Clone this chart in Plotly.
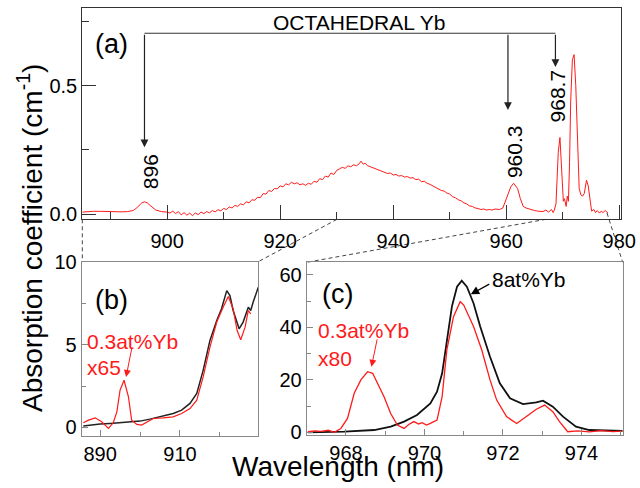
import plotly.graph_objects as go

# ---------------- data ----------------
# panel (a): 0.3at%Yb absorption spectrum
a_wl = [885, 886, 887, 888, 889, 890, 891, 892, 893, 894, 894.5, 895, 895.5, 896, 896.5, 897, 897.5, 898, 899, 900,
        900.5, 901, 901.5, 902, 902.5, 903, 903.5, 904, 904.5, 905, 905.5, 906, 906.5, 907, 907.5, 908, 908.5, 909,
        909.5, 910, 910.5, 911, 911.5, 912, 912.5, 913, 913.5, 914, 914.5, 915, 915.5, 916, 916.5, 917, 917.5, 918,
        918.5, 919, 919.5, 920, 920.5, 921, 921.5, 922, 922.5, 923, 923.5, 924, 924.5, 925, 925.5, 926, 926.5, 927,
        927.5, 928, 928.5, 929, 929.5, 930, 930.5, 931, 931.5, 932, 932.5, 933, 933.5, 934, 934.3, 934.7, 935, 935.5,
        936, 936.5, 937, 937.5, 938, 938.5, 939, 939.5, 940, 940.5, 941, 941.5, 942, 942.5, 943, 943.5, 944, 944.5,
        945, 945.5, 946, 946.5, 947, 947.5, 948, 948.5, 949, 949.5, 950, 950.5, 951, 951.5, 952, 952.5, 953, 953.5,
        954, 954.5, 955, 955.5, 956, 956.5, 957, 957.5, 958, 958.8, 959.4, 959.8, 960.3, 960.8, 961.3, 962, 962.5,
        963, 963.5, 964, 964.5, 965, 965.5, 966, 966.5, 967, 967.5, 968, 968.3, 968.5, 968.8, 969.0, 969.2, 969.5,
        969.7, 969.9, 970.1, 970.3, 970.6, 970.8, 971.0, 971.2, 971.4, 971.7, 972.0, 972.3, 972.6, 972.9, 973.2,
        973.5, 973.8, 974.2, 974.5, 974.8, 975.1, 975.5, 975.8, 976.1, 976.5, 976.8, 977.1, 977.5, 978]
a_abs = [0.008, 0.010, 0.011, 0.011, 0.010, 0.010, 0.009, 0.009, 0.010, 0.014, 0.022, 0.033, 0.043, 0.048, 0.044,
         0.034, 0.024, 0.016, 0.010, 0.008, 0.004, 0.012, 0.002, 0.010, -0.003, 0.006, -0.004, 0.004, -0.006, 0.005,
         -0.002, 0.008, 0.002, 0.010, 0.005, 0.014, 0.009, 0.017, 0.013, 0.022, 0.018, 0.028, 0.024, 0.034, 0.030,
         0.040, 0.036, 0.048, 0.044, 0.056, 0.054, 0.066, 0.064, 0.080, 0.078, 0.092, 0.088, 0.100, 0.098, 0.110,
         0.106, 0.118, 0.114, 0.124, 0.118, 0.122, 0.114, 0.118, 0.112, 0.120, 0.116, 0.128, 0.124, 0.138, 0.134,
         0.148, 0.144, 0.160, 0.154, 0.170, 0.176, 0.182, 0.178, 0.188, 0.184, 0.192, 0.188, 0.196, 0.206, 0.194,
         0.198, 0.188, 0.184, 0.180, 0.174, 0.172, 0.166, 0.164, 0.158, 0.160, 0.152, 0.154, 0.148, 0.150, 0.144,
         0.146, 0.140, 0.142, 0.134, 0.136, 0.126, 0.128, 0.120, 0.116, 0.110, 0.104, 0.100, 0.092, 0.090, 0.082,
         0.078, 0.068, 0.064, 0.056, 0.052, 0.044, 0.040, 0.032, 0.030, 0.024, 0.022, 0.018, 0.020, 0.016, 0.018,
         0.016, 0.020, 0.018, 0.024, 0.048, 0.080, 0.106, 0.120, 0.100, 0.060, 0.030, 0.024, 0.020, 0.016, 0.014,
         0.012, 0.012, 0.010, 0.016, 0.008, 0.018, 0.006, 0.016, 0.040, 0.140, 0.240, 0.298, 0.230, 0.120, 0.050,
         0.060, 0.030, 0.070, 0.050, 0.200, 0.440, 0.600, 0.620, 0.500, 0.260, 0.100, 0.075, 0.070, 0.080, 0.132,
         0.110, 0.050, 0.012, 0.018, 0.006, 0.014, 0.004, 0.012, 0.006, 0.014, 0.004, 0.012, 0.006, 0.012]

# panel (b): 885-930 nm
b_wl_8 = [885.8, 887.5, 890.0, 892.5, 895.0, 897.5, 900.0, 902.5, 905.0, 906.7, 908.3, 910.4, 912.5, 914.2,
          915.8, 917.5, 919.2, 920.4, 921.7, 922.5, 923.3, 924.8, 925.8, 927.1, 927.7, 928.3, 929.6]
b_abs_8 = [0.08, 0.14, 0.20, 0.24, 0.30, 0.34, 0.38, 0.50, 0.64, 0.74, 0.84, 1.04, 1.45, 2.05,
           3.45, 5.26, 6.47, 7.17, 8.27, 7.97, 7.07, 5.96, 6.37, 7.27, 7.07, 7.57, 8.47]
b_wl_03 = [885.8, 887.1, 888.75, 890.4, 892.1, 893.3, 894.2, 895.0, 896.0, 897.1, 897.9, 899.2, 900.4, 901.7,
           903.3, 905.8, 908.3, 910.4, 912.5, 914.2, 915.8, 917.5, 919.2, 920.8, 922.1, 923.3, 924.3, 925.2,
           926.3, 927.1, 927.7]
b_abs_03 = [0.28, 0.44, 0.58, 0.34, -0.06, 0.28, 0.94, 2.25, 2.85, 1.85, 0.44, 0.18, 0.14, 0.34,
            0.54, 0.58, 0.64, 0.84, 1.14, 1.65, 3.05, 4.86, 6.37, 7.27, 7.91, 7.17, 5.86, 5.30,
            6.06, 7.07, 6.87]

# panel (c): 967-975 nm
c_wl_8 = [967.03, 967.96, 968.72, 969.14, 969.48, 969.81, 970.15, 970.32, 970.45, 970.57, 970.70, 970.83,
          970.95, 971.08, 971.25, 971.42, 971.67, 971.92, 972.18, 972.51, 972.85, 973.02, 973.27, 973.53,
          973.86, 974.20, 975.05]
c_abs_8 = [0.0, 0.25, 0.9, 2.2, 4.1, 6.6, 11.0, 15.5, 22.5, 35.0, 48.0, 55.5,
           57.8, 55.5, 49.2, 40.3, 28.8, 18.7, 13.0, 10.8, 11.4, 12.1, 9.8, 6.0,
           2.2, 0.9, 0.6]
c_wl_03 = [967.03, 967.2, 967.37, 967.55, 967.70, 967.87, 968.04, 968.21, 968.38, 968.55, 968.68, 968.80,
           968.97, 969.14, 969.31, 969.48, 969.6, 969.73, 969.85, 969.94, 970.05, 970.15, 970.32, 970.45,
           970.57, 970.74, 970.91, 971.0, 971.08, 971.25, 971.46, 971.67, 971.84, 972.09, 972.35, 972.60,
           972.85, 973.06, 973.27, 973.44, 973.65, 973.9, 974.2, 974.5, 974.8, 975.05]
c_abs_03 = [0.25, 0.6, 0.4, 0.8, 0.0, 1.5, 5.3, 14.9, 20.0, 23.1, 22.5, 18.7,
            13.6, 7.2, 2.8, 1.5, 3.0, 4.1, 3.2, 3.7, 2.8, 3.4, 4.7, 13.6,
            31.4, 44.1, 49.8, 48.5, 46.0, 40.3, 31.4, 20.0, 12.3, 6.0, 3.4, 6.0,
            8.8, 10.4, 7.9, 4.1, 0.25, 0.6, 0.2, 0.7, 0.3, 0.5]

# tick labels / annotation values
a_xticks = [900, 920, 940, 960, 980]
a_yticks = [0.0, 0.5]
a_yticktext = ["0.0", "0.5"]
peaks = [896, 960.3, 968.7]
peak_tips = [0.26, 0.405, 0.572]
peak_label_y = [0.165, 0.245, 0.459]
peak_label_shift = [6, 6, 2]
bracket_y = 0.703

W, H = 640, 488
FONT = "Liberation Sans, Arial, sans-serif"
RED = "#ff1a1a"


def px(x):
    return x / W


def py(y):
    return 1 - y / H


fig = go.Figure()
fig.add_trace(go.Scatter(x=a_wl, y=a_abs, mode="lines", line=dict(color=RED, width=1), xaxis="x", yaxis="y"))
fig.add_trace(go.Scatter(x=b_wl_8, y=b_abs_8, mode="lines", line=dict(color="#222222", width=1.5), xaxis="x2", yaxis="y2"))
fig.add_trace(go.Scatter(x=b_wl_03, y=b_abs_03, mode="lines", line=dict(color=RED, width=1.2), xaxis="x2", yaxis="y2"))
fig.add_trace(go.Scatter(x=c_wl_8, y=c_abs_8, mode="lines", line=dict(color="#111111", width=1.8), xaxis="x3", yaxis="y3"))
fig.add_trace(go.Scatter(x=c_wl_03, y=c_abs_03, mode="lines", line=dict(color=RED, width=1.3), xaxis="x3", yaxis="y3"))

tickfont = dict(family=FONT, size=20, color="black")
common = dict(showgrid=False, zeroline=False, showline=True, mirror=True, ticks="inside", tickfont=tickfont,
              automargin=False)

fig.update_layout(
    template="none",
    width=W, height=H, margin=dict(l=0, r=0, t=0, b=0, pad=0), autosize=False,
    paper_bgcolor="white", plot_bgcolor="white", showlegend=False,
    xaxis=dict(domain=[px(82.3), px(621)], range=[885, 980.3], anchor="y", tickvals=a_xticks,
               ticklen=14, linecolor="#333333", linewidth=1.2, tickcolor="#333333", ticklabelstandoff=4,
               minor=dict(ticks="inside", dtick=10, ticklen=7, tickcolor="#333333"), **common),
    yaxis=dict(domain=[py(219.3), py(8.3)], range=[-0.02, 0.80], anchor="x", tickvals=a_yticks,
               ticktext=a_yticktext, ticklen=14, linecolor="#333333", linewidth=1.2, tickcolor="#333333",
               minor=dict(ticks="inside", dtick=0.25, ticklen=7, tickcolor="#333333"), **common),
    xaxis2=dict(domain=[px(81.7), px(258.3)], range=[885.4, 929.6], anchor="y2", tick0=890, dtick=20,
                ticklen=6, linecolor="#888888", tickcolor="#888888", ticklabelstandoff=0,
                minor=dict(ticks="inside", dtick=10, tick0=890, ticklen=4, tickcolor="#888888"), **common),
    yaxis2=dict(domain=[py(436), py(261.7)], range=[-0.52, 10.02], anchor="x2", tick0=0, dtick=5,
                ticklen=6, linecolor="#888888", tickcolor="#888888",
                minor=dict(ticks="inside", dtick=2.5, ticklen=4, tickcolor="#888888"), **common),
    xaxis3=dict(domain=[px(306.7), px(622.7)], range=[967, 975.05], anchor="y3", tick0=968, dtick=2,
                ticklen=6, linecolor="#888888", tickcolor="#888888", ticklabelstandoff=0,
                minor=dict(ticks="inside", dtick=1, ticklen=4, tickcolor="#888888"), **common),
    yaxis3=dict(domain=[py(435), py(262.3)], range=[-1, 64.8], anchor="x3", tick0=0, dtick=20,
                ticklen=6, linecolor="#888888", tickcolor="#888888",
                minor=dict(ticks="inside", dtick=10, ticklen=4, tickcolor="#888888"), **common),
)

shapes = []
# bracket horizontal line (panel a data coords)
shapes.append(dict(type="line", xref="x", yref="y", x0=peaks[0], x1=peaks[-1], y0=bracket_y, y1=bracket_y,
                   line=dict(color="#333333", width=1.2)))
# dashed connectors (paper coords)
dash = dict(color="#444444", width=1, dash="4px,3px")
for (x0, y0, x1, y1) in [(82.3, 219.3, 82.3, 261.7), (337, 219.3, 258.3, 261.7),
                         (546, 219.3, 306.7, 262.3), (607, 213, 622.7, 262.3)]:
    shapes.append(dict(type="line", xref="paper", yref="paper", x0=px(x0), y0=py(y0), x1=px(x1), y1=py(y1),
                       line=dash, layer="below"))
fig.update_layout(shapes=shapes)

ann = []
# bracket arrows and peak labels
for p, tip, ly, sh in zip(peaks, peak_tips, peak_label_y, peak_label_shift):
    ann.append(dict(x=p, y=tip, xref="x", yref="y", ax=p, ay=bracket_y, axref="x", ayref="y", text="",
                    showarrow=True, arrowhead=2, arrowsize=1.3, arrowwidth=1.2, arrowcolor="#222222"))
    ann.append(dict(x=p, y=ly, xref="x", yref="y", text=("%g" % p), textangle=-90, showarrow=False,
                    xshift=sh, xanchor="center", yanchor="middle", font=dict(family=FONT, size=21, color="black")))


def text(x, y, t, size=21, color="black", anchor="left"):
    ann.append(dict(x=px(x), y=py(y), xref="paper", yref="paper", text=t, showarrow=False,
                    xanchor=anchor, yanchor="middle", font=dict(family=FONT, size=size, color=color)))


text(358.5, 23, "OCTAHEDRAL Yb", size=21, anchor="center")
text(93, 44, "(a)", size=27)
text(93, 300, "(b)", size=27)
text(320, 294, "(c)", size=27)
text(85, 341, "0.3at%Yb", color=RED)
text(85, 367, "x65", color=RED)
text(316, 330, "0.3at%Yb", color=RED)
text(316, 358, "x80", color=RED)
text(490, 279, "8at%Yb")

# sample arrows
ann.append(dict(x=896.5, y=3.05, xref="x2", yref="y2", ax=6, ay=-30, text="", showarrow=True,
                arrowhead=2, arrowsize=1.4, arrowwidth=1, arrowcolor=RED))
ann.append(dict(x=968.65, y=25.0, xref="x3", yref="y3", ax=6, ay=-29, text="", showarrow=True,
                arrowhead=2, arrowsize=1.4, arrowwidth=1, arrowcolor=RED))
ann.append(dict(x=971.18, y=52.6, xref="x3", yref="y3", ax=20, ay=-11, text="", showarrow=True,
                arrowhead=2, arrowsize=1.4, arrowwidth=1.2, arrowcolor="black"))

# axis titles
ann.append(dict(x=px(30), y=py(238), xref="paper", yref="paper", text="Absorption coefficient (cm<sup>-1</sup>)",
                textangle=-90, showarrow=False, xanchor="center", yanchor="middle",
                font=dict(family=FONT, size=28, color="black")))
ann.append(dict(x=px(338), y=py(466), xref="paper", yref="paper", text="Wavelength (nm)", showarrow=False,
                xanchor="center", yanchor="middle", font=dict(family=FONT, size=28, color="black")))
fig.update_layout(annotations=ann)

fig.write_html("out.html", config={"displayModeBar": False},
               post_script="document.body.style.margin='0';document.body.style.overflow='hidden';")
